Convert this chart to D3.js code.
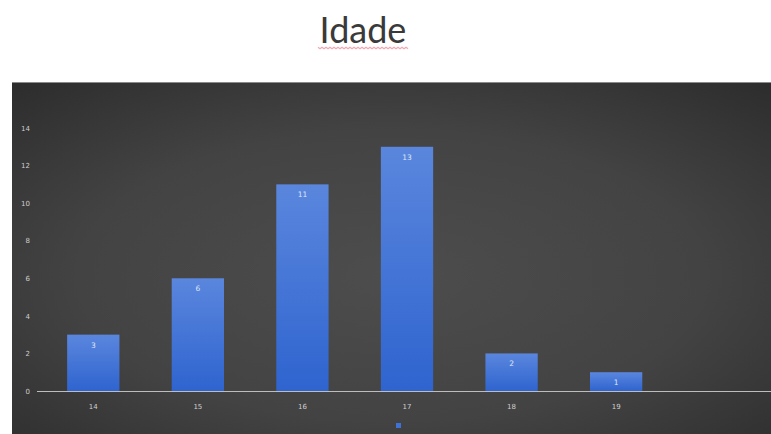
<!DOCTYPE html>
<html>
<head>
<meta charset="utf-8">
<script src="https://cdn.jsdelivr.net/npm/d3@7/dist/d3.min.js"></script>
<style>
  html, body { margin: 0; padding: 0; background: #ffffff; }
  svg { display: block; }
</style>
</head>
<body>
<svg id="chart" width="771" height="434"></svg>
<script>
// Age distribution
const categories = ["14", "15", "16", "17", "18", "19"];
const counts = [3, 6, 11, 13, 2, 1];
const yTicks = [0, 2, 4, 6, 8, 10, 12, 14];
const title = "Idade";

const W = 771, H = 434;
const svg = d3.select("#chart");
const defs = svg.append("defs");

// dark panel background, lighter toward the middle
const bg = defs.append("radialGradient").attr("id", "panelBg")
  .attr("cx", "50%").attr("cy", "55%").attr("r", "75%");
bg.append("stop").attr("offset", "0%").attr("stop-color", "#4d4d4d");
bg.append("stop").attr("offset", "55%").attr("stop-color", "#434343");
bg.append("stop").attr("offset", "100%").attr("stop-color", "#2c2c2c");

const barGrad = defs.append("linearGradient").attr("id", "barFill")
  .attr("x1", 0).attr("y1", 0).attr("x2", 0).attr("y2", 1);
barGrad.append("stop").attr("offset", "0%").attr("stop-color", "#5a86dd");
barGrad.append("stop").attr("offset", "100%").attr("stop-color", "#2f64cf");

// title
svg.append("text")
  .attr("x", 363).attr("y", 43)
  .attr("text-anchor", "middle")
  .attr("font-family", "Lato, 'Open Sans', sans-serif")
  .attr("font-size", 36)
  .attr("fill", "#3a3a3a")
  .text(title);

// spell-check style squiggle under the title
const squiggle = d3.range(318, 409, 2).map((x, i) => [x, 48 + (i % 2 ? 0.8 : -0.8)]);
svg.append("path")
  .attr("d", d3.line()(squiggle))
  .attr("fill", "none")
  .attr("stroke", "#f3a9b4")
  .attr("stroke-width", 1.2);

// panel
svg.append("rect")
  .attr("x", 12).attr("y", 82).attr("width", W - 12).attr("height", H - 82)
  .attr("fill", "url(#panelBg)");
svg.append("line")
  .attr("x1", 12).attr("x2", W).attr("y1", 82.5).attr("y2", 82.5)
  .attr("stroke", "#8a8a8a").attr("stroke-width", 1);

// scales
const x = d3.scaleBand()
  .domain(categories.concat([""]))
  .range([41, 773])
  .paddingInner(0.5)
  .paddingOuter(0.25);

const y = d3.scaleLinear().domain([0, 14]).range([391, 128]);

// y axis labels
const yAxis = d3.axisLeft(y).tickValues(yTicks).tickSize(0).tickPadding(0);
const yG = svg.append("g").attr("transform", "translate(30,0)").call(yAxis);
yG.select(".domain").remove();
yG.selectAll("text")
  .attr("fill", "#cfcfcf")
  .attr("font-family", "'DejaVu Sans', sans-serif")
  .attr("font-size", 7);

// bars
svg.append("g").selectAll("rect")
  .data(counts)
  .join("rect")
  .attr("x", (d, i) => x(categories[i]))
  .attr("y", d => y(d))
  .attr("width", x.bandwidth())
  .attr("height", d => y(0) - y(d))
  .attr("fill", "url(#barFill)");

// value labels
svg.append("g").selectAll("text")
  .data(counts)
  .join("text")
  .attr("x", (d, i) => x(categories[i]) + x.bandwidth() / 2)
  .attr("y", d => y(d) + 13)
  .attr("text-anchor", "middle")
  .attr("font-family", "'DejaVu Sans', sans-serif")
  .attr("font-size", 7.5)
  .attr("fill", "#dfe7f8")
  .text(d => d);

// x axis
const xAxis = d3.axisBottom(x).tickSize(0).tickPadding(13);
const xG = svg.append("g").attr("transform", `translate(0,${y(0)})`).call(xAxis);
xG.select(".domain").remove();
xG.selectAll("text")
  .attr("fill", "#cfcfcf")
  .attr("font-family", "'DejaVu Sans', sans-serif")
  .attr("font-size", 7);
svg.append("line")
  .attr("x1", 37).attr("x2", W).attr("y1", y(0) + 0.5).attr("y2", y(0) + 0.5)
  .attr("stroke", "#bdbdbd").attr("stroke-width", 1.2);

// legend marker
svg.append("rect")
  .attr("x", 396).attr("y", 423).attr("width", 5).attr("height", 5)
  .attr("fill", "#3f72d6");
</script>
</body>
</html>
